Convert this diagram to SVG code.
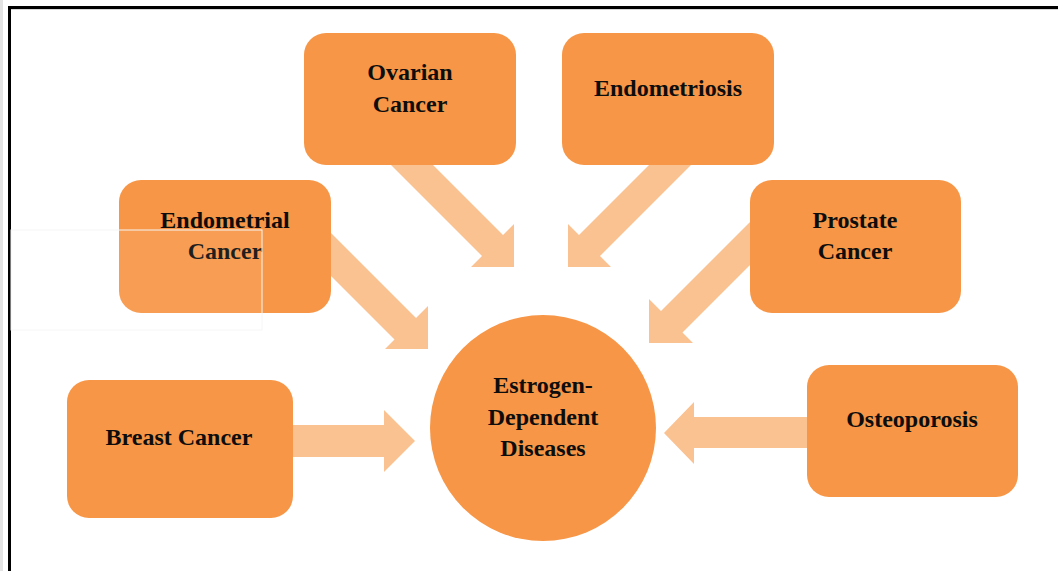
<svg xmlns="http://www.w3.org/2000/svg" width="1058" height="571" viewBox="0 0 1058 571">
<style>
.node{fill:#F79646}
.arr{fill:#FAC191}
.lbl{font-family:"Liberation Serif","Times New Roman",serif;font-weight:bold;font-size:24px;fill:#0d0d0d;text-anchor:middle}
</style>
<rect x="0" y="0" width="1058" height="571" fill="#ffffff"/>
<rect x="0" y="0" width="3" height="571" fill="#e3e3e3"/>
<rect x="8" y="6" width="1050" height="3" fill="#000"/>
<rect x="8" y="9" width="1050" height="1" fill="#d8d8d8"/>
<rect x="8" y="6" width="3" height="565" fill="#000"/>
<g id="connectors">
<polygon class="arr" points="390,165 433,165 503,235 514,224 514,267 471,267 482,256 350,124 390,124"/>
<polygon class="arr" points="692,165 649,165 579,235 568,224 568,267 611,267 600,256 732,124 692,124"/>
<polygon class="arr" points="300,202 416,318 428,306 428,349 385,349 394.5,339.5 300,245"/>
<polygon class="arr" points="780,192 661,311 649,299 649,343 693,343 682.5,332.5 780,235"/>
<polygon class="arr" points="260,425 384,425 384,410 415,441 384,472 384,457 260,457"/>
<polygon class="arr" points="840,417 694,417 694,402 664,433 694,464 694,448 840,448"/>
</g>
<g id="ovarian"><rect class="node" x="304" y="33" width="212" height="132" rx="22"/>
<text class="lbl" x="410" y="80">Ovarian</text><text class="lbl" x="410" y="112">Cancer</text></g>
<g id="endometriosis"><rect class="node" x="562" y="33" width="212" height="132" rx="22"/>
<text class="lbl" x="668" y="96">Endometriosis</text></g>
<g id="endometrial"><rect class="node" x="119" y="180" width="212" height="133" rx="22"/>
<text class="lbl" x="225" y="228">Endometrial</text><text class="lbl" x="225" y="259">Cancer</text></g>
<g id="prostate"><rect class="node" x="750" y="180" width="211" height="133" rx="22"/>
<text class="lbl" x="855" y="228">Prostate</text><text class="lbl" x="855" y="259">Cancer</text></g>
<g id="breast"><rect class="node" x="67" y="380" width="226" height="138" rx="22"/>
<text class="lbl" x="179" y="445">Breast Cancer</text></g>
<g id="osteoporosis"><rect class="node" x="807" y="365" width="211" height="132" rx="22"/>
<text class="lbl" x="912" y="427">Osteoporosis</text></g>
<g id="center"><circle class="node" cx="543" cy="428" r="113"/>
<text class="lbl" x="543" y="393">Estrogen-</text><text class="lbl" x="543" y="425">Dependent</text><text class="lbl" x="543" y="456">Diseases</text></g>
<rect x="11" y="230" width="251" height="100" fill="#ffffff" fill-opacity="0.08" stroke="#f6f6f6" stroke-width="1"/>
</svg>
